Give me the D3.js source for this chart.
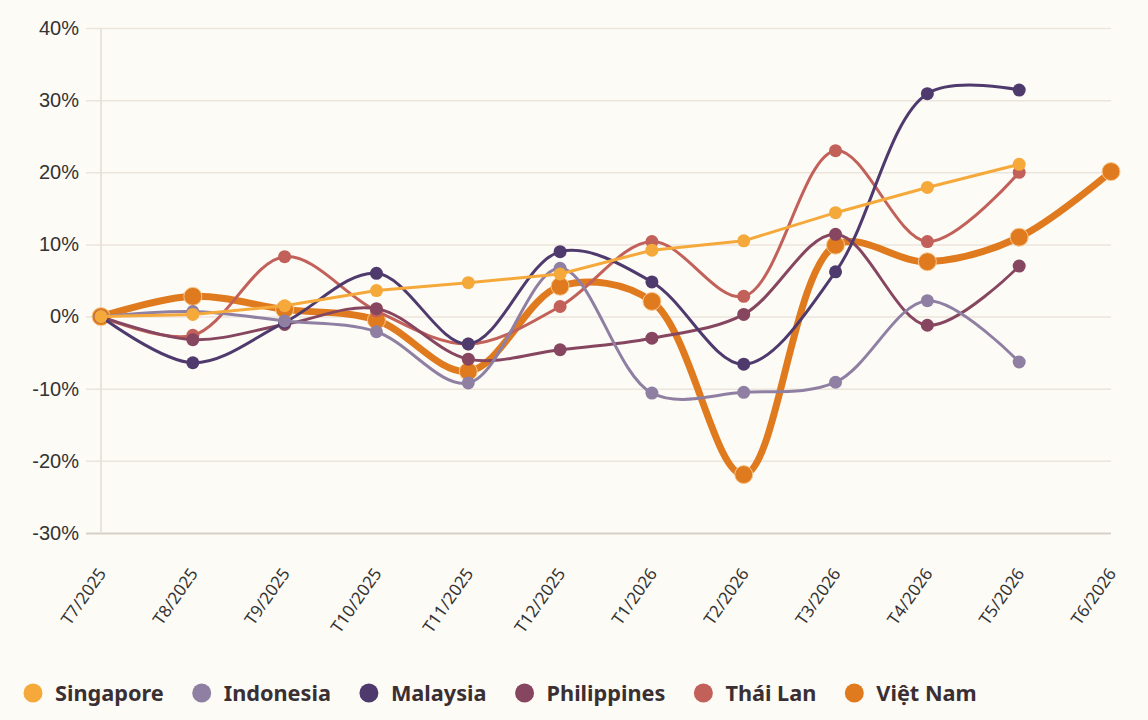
<!DOCTYPE html>
<html>
<head>
<meta charset="utf-8">
<script src="https://cdn.jsdelivr.net/npm/d3@7"></script>
<style>
  html, body { margin: 0; padding: 0; background: #fdfbf6; }
  svg { display: block; font-family: "Noto Sans", "Open Sans", sans-serif; }
</style>
</head>
<body>
<div id="chart"></div>
<script>
// Months (x categories)
var months = ["T7/2025", "T8/2025", "T9/2025", "T10/2025", "T11/2025", "T12/2025",
  "T1/2026", "T2/2026", "T3/2026", "T4/2026", "T5/2026", "T6/2026"];

// Values in %
var singapore   = [0, 0.3, 1.5, 3.6, 4.7, 5.9, 9.2, 10.5, 14.4, 17.9, 21.1];
var indonesia   = [0, 0.7, -0.6, -2.1, -9.2, 6.7, -10.6, -10.5, -9.1, 2.2, -6.3];
var malaysia    = [0, -6.4, -0.8, 6.0, -3.8, 9.0, 4.8, -6.6, 6.2, 30.9, 31.4];
var philippines = [0, -3.2, -1.1, 1.1, -5.9, -4.6, -3.0, 0.3, 11.4, -1.2, 7.0];
var thailan     = [0, -2.6, 8.3, 0.8, -3.8, 1.4, 10.4, 2.8, 23.0, 10.4, 20.0];
var vietnam     = [0, 2.8, 1.0, -0.5, -7.6, 4.2, 2.1, -21.9, 9.9, 7.6, 11.0, 20.1];

var yTicks = [-30, -20, -10, 0, 10, 20, 30, 40];

var series = [
  { name: "Singapore",   values: singapore,   color: "#f5a93b", width: 3,   r: 6.5, curve: d3.curveLinear },
  { name: "Indonesia",   values: indonesia,   color: "#8f80a3", width: 3,   r: 6.5, curve: d3.curveCatmullRom },
  { name: "Malaysia",    values: malaysia,    color: "#4f3a6e", width: 3,   r: 6.5, curve: d3.curveCatmullRom },
  { name: "Philippines", values: philippines, color: "#86465f", width: 3,   r: 6.5, curve: d3.curveCatmullRom },
  { name: "Thái Lan",    values: thailan,     color: "#c2605a", width: 3,   r: 6.5, curve: d3.curveCatmullRom },
  { name: "Việt Nam",    values: vietnam,     color: "#e07a1f", width: 7,   r: 9,   curve: d3.curveCatmullRom }
];

var width = 1148, height = 720;
var margin = { top: 28, right: 37, bottom: 187, left: 101 };

var svg = d3.select("#chart").append("svg")
    .attr("width", width)
    .attr("height", height);

svg.append("rect").attr("width", width).attr("height", height).attr("fill", "#fdfbf6");

var x = d3.scalePoint()
    .domain(months)
    .range([margin.left, width - margin.right]);

var y = d3.scaleLinear()
    .domain([-30, 40])
    .range([height - margin.bottom, margin.top]);

// y grid + labels
var yAxis = svg.append("g")
    .attr("transform", "translate(" + (width - margin.right) + ",0)")
    .call(d3.axisLeft(y)
      .tickValues(yTicks)
      .tickSize(width - margin.right - margin.left + 15)
      .tickPadding(7)
      .tickFormat(function (d) { return d + "%"; }));
yAxis.select(".domain").remove();
yAxis.selectAll(".tick line")
    .attr("stroke", function (d) { return d === -30 ? "#d8d1c7" : "#ebe5dc"; })
    .attr("stroke-width", function (d) { return d === -30 ? 2 : 1.5; });
yAxis.selectAll(".tick text")
    .attr("fill", "#333")
    .style("font-size", "20px");

// vertical axis line
svg.append("line")
    .attr("x1", margin.left).attr("x2", margin.left)
    .attr("y1", y(40)).attr("y2", y(-30))
    .attr("stroke", "#e3ddd3")
    .attr("stroke-width", 1.5);

// x labels
svg.append("g").selectAll("text")
  .data(months)
  .enter().append("text")
    .attr("transform", function (d) { return "translate(" + (x(d) + 1) + "," + (y(-30) + 37) + ") rotate(-55)"; })
    .attr("text-anchor", "end")
    .attr("dy", "0.35em")
    .attr("fill", "#333")
    .style("font-size", "17px")
    .text(function (d) { return d; });

// lines, drawn bottom-up so Singapore ends on top
var plot = svg.append("g");
series.slice().reverse().forEach(function (s) {
  var pts = s.values.map(function (v, i) { return [x(months[i]), y(v)]; });
  var g = plot.append("g");
  g.append("path")
      .attr("d", d3.line().curve(s.curve)(pts))
      .attr("fill", "none")
      .attr("stroke", s.color)
      .attr("stroke-width", s.width)
      .attr("stroke-linejoin", "round")
      .attr("stroke-linecap", "round");
  g.selectAll("circle")
    .data(pts)
    .enter().append("circle")
      .attr("cx", function (p) { return p[0]; })
      .attr("cy", function (p) { return p[1]; })
      .attr("r", s.r)
      .attr("fill", s.color)
      .attr("stroke", s.name === "Việt Nam" ? "#f7c98e" : "none")
      .attr("stroke-width", 1);
});

// legend
var legend = svg.append("g").attr("transform", "translate(33,693)");
var lx = 0;
series.forEach(function (s) {
  var item = legend.append("g").attr("transform", "translate(" + lx + ",0)");
  item.append("circle").attr("r", 9.5).attr("fill", s.color);
  var t = item.append("text")
      .attr("x", 22)
      .attr("dy", "0.35em")
      .attr("fill", "#3a2f33")
      .style("font-size", "21.7px")
      .style("font-weight", "bold")
      .text(s.name);
  lx += 22 + t.node().getComputedTextLength() + 38;
});
</script>
</body>
</html>
